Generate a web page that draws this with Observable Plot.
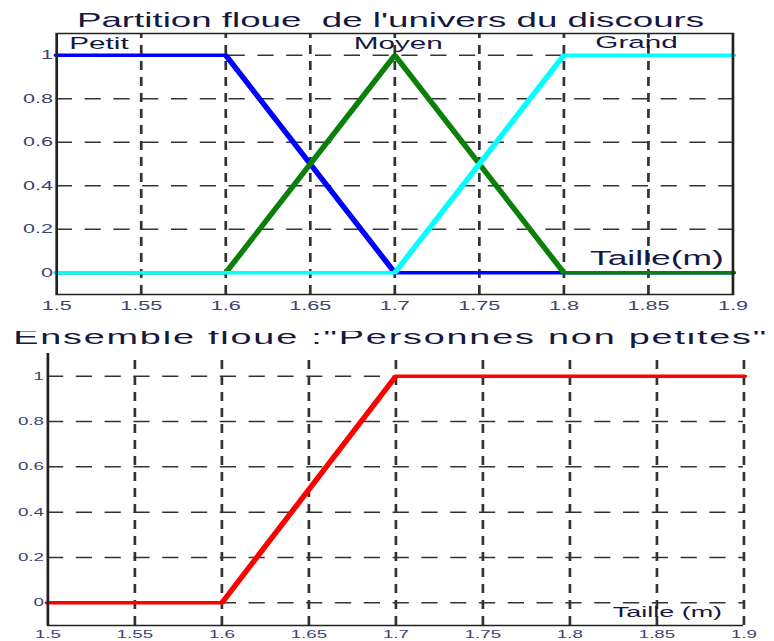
<!DOCTYPE html>
<html>
<head>
<meta charset="utf-8">
<script src="https://cdn.jsdelivr.net/npm/d3@7"></script>
<script src="https://cdn.jsdelivr.net/npm/@observablehq/plot@0.6"></script>
<style>
  html, body { margin: 0; padding: 0; background: #fff; overflow: hidden; }
  /* The figure is laid out narrow and stretched horizontally, like a widened export */
  #stage {
    position: relative; width: 430px; height: 641px;
    transform: scaleX(1.8); transform-origin: 0 0;
    font-family: "Liberation Sans", Arial, sans-serif;
  }
  .title {
    position: absolute; left: 2px; width: 430px; text-align: center;
    line-height: 1; color: #15183f; white-space: pre;
  }
  #t1 { top: 9.7px; font-size: 20.4px; z-index: 1; }
  #t2 { top: 326px; font-size: 21px; letter-spacing: 1px; z-index: 0; }
  #p1 { position: absolute; left: 0; top: 30px; z-index: 2; line-height: 0; }
  #p2 { position: absolute; left: 0; top: 350px; z-index: 1; line-height: 0; }
</style>
</head>
<body>
<div id="stage">
  <div id="t1" class="title">Partition floue  de l'univers du discours</div>
  <div id="t2" class="title">Ensemble floue :"Personnes non petites"</div>
  <div id="p1"></div>
  <div id="p2"></div>
</div>
<script>
// Breakpoints of the membership functions (height in metres)
const heights = [1.5, 1.6, 1.7, 1.8, 1.9];
const petit = [1, 1, 0, 0, 0];
const moyen = [0, 0, 1, 0, 0];
const grand = [0, 0, 0, 1, 1];
const nonPetit = [0, 0, 1, 1, 1];

const classes = ["Petit", "Moyen", "Grand"];
const xTicks = [1.5, 1.55, 1.6, 1.65, 1.7, 1.75, 1.8, 1.85, 1.9];
const xTickLabels = ["1.5", "1.55", "1.6", "1.65", "1.7", "1.75", "1.8", "1.85", "1.9"];
const yTicks = [0, 0.2, 0.4, 0.6, 0.8, 1];
const yTickLabels = ["0", "0.2", "0.4", "0.6", "0.8", "1"];

const toPoints = (values) => heights.map((h, i) => ({h, mu: values[i]}));
const partition = [
  {name: "Petit", color: "#0000ff", points: toPoints(petit)},
  {name: "Moyen", color: "#0a800a", points: toPoints(moyen)},
  {name: "Grand", color: "#00ffff", points: toPoints(grand)}
];

const xFmt = (d) => xTickLabels[xTicks.indexOf(d)];
const yFmt = (d) => yTickLabels[yTicks.indexOf(d)];
const gridStyle = {stroke: "#333", strokeWidth: 1.5, strokeDasharray: "9,7", strokeOpacity: 1};
const textColor = "#15183f";

function grid(includeRight) {
  const vx = xTicks.filter((t, i) => i > 0 && (includeRight || i < xTicks.length - 1));
  return [
    Plot.ruleY(yTicks, {y: (d) => d, x1: 1.5, x2: 1.9, ...gridStyle}),
    Plot.ruleX(vx, {x: (d) => d, y1: -0.1, y2: 1.1, ...gridStyle})
  ];
}

// Upper chart: fuzzy partition of the height universe
const partitionChart = Plot.plot({
  width: 430, height: 301,
  marginLeft: 31, marginRight: 23.3, marginTop: 3, marginBottom: 37,
  style: {fontFamily: "Liberation Sans, Arial, sans-serif", fontSize: "12px", color: "#3a4470", background: "#fff"},
  x: {domain: [1.5, 1.9], ticks: xTicks, tickFormat: xFmt, tickSize: 0, tickPadding: 7, label: null},
  y: {domain: [-0.1, 1.1], ticks: yTicks, tickFormat: yFmt, tickSize: 0, tickPadding: 2, label: null},
  marks: [
    ...grid(false),
    ...partition.map((s) => Plot.line(s.points, {x: "h", y: "mu", stroke: s.color, strokeWidth: 3.5})),
    Plot.frame({stroke: "#222", strokeWidth: 1.5}),
    Plot.text(classes, {x: [1.525, 1.702, 1.843], y: [1.053, 1.053, 1.058], text: (d) => d,
      fontSize: 16.5, fill: textColor}),
    Plot.text([{x: 1.855, y: 0.065, t: "Taille(m)"}], {x: "x", y: "y", text: "t", fontSize: 19.7, fill: textColor})
  ]
});
document.getElementById("p1").append(partitionChart);

// Lower chart: fuzzy set "not small" people
const nonPetitChart = Plot.plot({
  width: 430, height: 291,
  marginLeft: 26.1, marginRight: 17.2, marginTop: 3, marginBottom: 16,
  style: {fontFamily: "Liberation Sans, Arial, sans-serif", fontSize: "10.4px", color: "#3a4470", background: "transparent"},
  x: {domain: [1.5, 1.9], ticks: xTicks, tickFormat: xFmt, tickSize: 0, tickPadding: 5, label: null},
  y: {domain: [-0.1, 1.1], ticks: yTicks, tickFormat: yFmt, tickSize: 0, tickPadding: 2.2, label: null},
  marks: [
    ...grid(true),
    Plot.line(toPoints(nonPetit), {x: "h", y: "mu", stroke: "#ff0000", strokeWidth: 3.5}),
    Plot.ruleX([1.5], {x: (d) => d, y1: -0.1, y2: 1.1, stroke: "#222", strokeWidth: 1.5}),
    Plot.ruleY([-0.1], {y: (d) => d, x1: 1.5, x2: 1.9, stroke: "#222", strokeWidth: 1.5}),
    Plot.text([{x: 1.856, y: -0.04, t: "Taille (m)"}], {x: "x", y: "y", text: "t", fontSize: 15, fill: textColor})
  ]
});
document.getElementById("p2").append(nonPetitChart);
</script>
</body>
</html>
